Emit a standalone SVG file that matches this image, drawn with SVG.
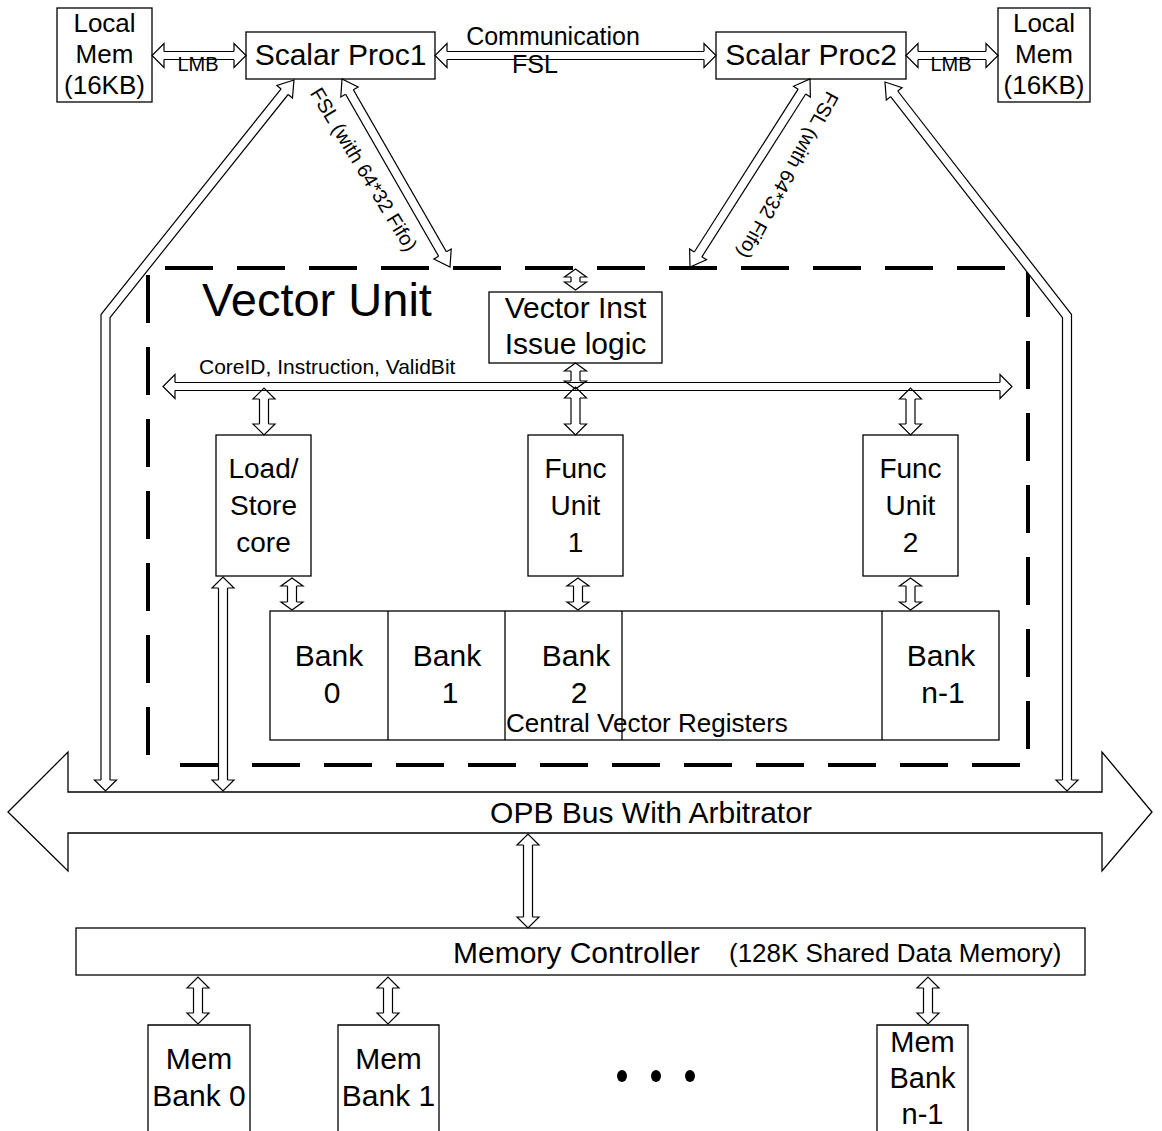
<svg xmlns="http://www.w3.org/2000/svg" xmlns:xlink="http://www.w3.org/1999/xlink" width="1162" height="1131" viewBox="0 0 1162 1131">
<style>
  .box { fill:#fff; stroke:#000; stroke-width:1.3; }
  .t { font-family:"Liberation Sans", Arial, sans-serif; fill:#000; }
  .c { text-anchor:middle; }
  .so { fill:none; stroke:#000; stroke-width:10.2; stroke-linejoin:miter; }
  .si { fill:none; stroke:#fff; stroke-width:7.8; stroke-linejoin:miter; }
  .so4 { fill:none; stroke:#000; stroke-width:9.2; }
  .si4 { fill:none; stroke:#fff; stroke-width:6.8; }
  .hd { fill:none; stroke:#000; stroke-width:1.2; stroke-linejoin:miter; }
  .dash { fill:none; stroke:#000; stroke-width:4; stroke-dasharray:48 24; }
</style>
<defs>
  <polyline id="hS" class="hd" points="-11,-4.5 -11,-11 0,0 -11,11 -11,4.5"/>
  <polyline id="hT" class="hd" points="-8,-4.5 -8,-11 0,0 -8,11 -8,4.5"/>
  <polyline id="hM" class="hd" points="-15,-4.5 -15,-10 0,0 -15,10 -15,4.5"/>
  <polyline id="hL" class="hd" points="-12,-4 -12,-12 0,0 -12,12 -12,4"/>
</defs>
<rect width="1162" height="1131" fill="#fff"/>

<g id="vector-unit">
  <path class="dash" d="M148,755 V268 H1028 V765 H160"/>
  <text class="t" x="202" y="316" font-size="47">Vector Unit</text>
</g>

<g id="local-mem-1">
  <rect class="box" x="57" y="8" width="95" height="94"/>
  <text class="t c" font-size="26" x="104.5" y="32">Local</text>
  <text class="t c" font-size="26" x="104.5" y="63">Mem</text>
  <text class="t c" font-size="26" x="104.5" y="94">(16KB)</text>
</g>
<g id="scalar-proc-1">
  <rect class="box" x="246" y="32" width="189" height="47"/>
  <text class="t c" font-size="30" x="340.5" y="65">Scalar Proc1</text>
</g>
<g id="scalar-proc-2">
  <rect class="box" x="716" y="32" width="190" height="47"/>
  <text class="t c" font-size="30" x="811" y="65">Scalar Proc2</text>
</g>
<g id="local-mem-2">
  <rect class="box" x="998" y="8" width="92" height="94"/>
  <text class="t c" font-size="26" x="1044" y="32">Local</text>
  <text class="t c" font-size="26" x="1044" y="63">Mem</text>
  <text class="t c" font-size="26" x="1044" y="94">(16KB)</text>
</g>

<g id="vector-inst">
  <rect class="box" x="489" y="292" width="173" height="71"/>
  <text class="t c" font-size="30" x="575.5" y="318">Vector Inst</text>
  <text class="t c" font-size="30" x="575.5" y="354">Issue logic</text>
</g>

<g id="load-store">
  <rect class="box" x="216" y="435" width="95" height="141"/>
  <text class="t c" font-size="28" x="263.5" y="478">Load/</text>
  <text class="t c" font-size="28" x="263.5" y="515">Store</text>
  <text class="t c" font-size="28" x="263.5" y="552">core</text>
</g>
<g id="func-unit-1">
  <rect class="box" x="528" y="435" width="95" height="141"/>
  <text class="t c" font-size="28" x="575.5" y="478">Func</text>
  <text class="t c" font-size="28" x="575.5" y="515">Unit</text>
  <text class="t c" font-size="28" x="575.5" y="552">1</text>
</g>
<g id="func-unit-2">
  <rect class="box" x="863" y="435" width="95" height="141"/>
  <text class="t c" font-size="28" x="910.5" y="478">Func</text>
  <text class="t c" font-size="28" x="910.5" y="515">Unit</text>
  <text class="t c" font-size="28" x="910.5" y="552">2</text>
</g>

<g id="central-vector-registers">
  <rect class="box" x="270" y="611" width="729" height="129"/>
  <line x1="388" y1="611" x2="388" y2="740" stroke="#000" stroke-width="1.3"/>
  <line x1="505" y1="611" x2="505" y2="740" stroke="#000" stroke-width="1.3"/>
  <line x1="622" y1="611" x2="622" y2="740" stroke="#000" stroke-width="1.3"/>
  <line x1="882" y1="611" x2="882" y2="740" stroke="#000" stroke-width="1.3"/>
  <text class="t c" font-size="30" x="329" y="666">Bank</text>
  <text class="t c" font-size="30" x="332" y="703">0</text>
  <text class="t c" font-size="30" x="447" y="666">Bank</text>
  <text class="t c" font-size="30" x="450" y="703">1</text>
  <text class="t c" font-size="30" x="576" y="666">Bank</text>
  <text class="t c" font-size="30" x="579" y="703">2</text>
  <text class="t c" font-size="30" x="941" y="666">Bank</text>
  <text class="t c" font-size="30" x="943" y="703">n-1</text>
  <text class="t" font-size="26" x="506" y="732">Central Vector Registers</text>
</g>

<g id="opb-bus">
  <polygon class="box" points="8,812 68,752 68,792 1102,792 1102,752 1152,812 1102,871 1102,833 68,833 68,871"/>
  <text class="t c" font-size="30" x="651" y="823">OPB Bus With Arbitrator</text>
</g>

<g id="memory-controller">
  <rect class="box" x="76" y="928" width="1009" height="47"/>
  <text class="t" font-size="30" x="453" y="963">Memory Controller</text>
  <text class="t" font-size="26" x="729" y="962">(128K Shared Data Memory)</text>
</g>

<g id="mem-bank-0">
  <path class="box" d="M148,1135 V1025 H250 V1135"/>
  <text class="t c" font-size="30" x="199" y="1069">Mem</text>
  <text class="t c" font-size="30" x="199" y="1106">Bank 0</text>
</g>
<g id="mem-bank-1">
  <path class="box" d="M338,1135 V1025 H439 V1135"/>
  <text class="t c" font-size="30" x="388.5" y="1069">Mem</text>
  <text class="t c" font-size="30" x="388.5" y="1106">Bank 1</text>
</g>
<g id="mem-bank-n1">
  <path class="box" d="M877,1135 V1025 H968 V1135"/>
  <text class="t c" font-size="29" x="922.5" y="1052">Mem</text>
  <text class="t c" font-size="29" x="922.5" y="1088">Bank</text>
  <text class="t c" font-size="29" x="922.5" y="1124">n-1</text>
</g>
<g id="ellipsis">
  <ellipse cx="622" cy="1076" rx="5" ry="6"/>
  <ellipse cx="656" cy="1076" rx="5" ry="6"/>
  <ellipse cx="690" cy="1076" rx="5" ry="6"/>
</g>

<g id="connectors">
  <!-- LMB left -->
  <path class="so4" d="M164,55.5 H234"/><path class="si4" d="M163,55.5 H235"/>
  <use xlink:href="#hL" transform="translate(152,55.5) rotate(180)"/>
  <use xlink:href="#hL" transform="translate(246,55.5)"/>
  <!-- Communication FSL -->
  <path class="so4" d="M447,55.5 H704"/><path class="si4" d="M446,55.5 H705"/>
  <use xlink:href="#hL" transform="translate(435,55.5) rotate(180)"/>
  <use xlink:href="#hL" transform="translate(716,55.5)"/>
  <!-- LMB right -->
  <path class="so4" d="M918,55.5 H986"/><path class="si4" d="M917,55.5 H987"/>
  <use xlink:href="#hL" transform="translate(906,55.5) rotate(180)"/>
  <use xlink:href="#hL" transform="translate(998,55.5)"/>

  <!-- Proc1 to OPB -->
  <path class="so" d="M105.5,780 V316 L284.6,91.7"/><path class="si" d="M105.5,781 V316 L285.2,90.9"/>
  <use xlink:href="#hS" transform="translate(105.5,791) rotate(90)"/>
  <use xlink:href="#hM" transform="translate(294,80) rotate(-51.4)"/>
  <!-- Proc2 to OPB -->
  <path class="so" d="M1067,780 V316 L894.2,93.8"/><path class="si" d="M1067,781 V316 L893.6,93"/>
  <use xlink:href="#hS" transform="translate(1067,791) rotate(90)"/>
  <use xlink:href="#hM" transform="translate(885,82) rotate(-127.9)"/>

  <!-- FSL Proc1 to Vector Unit -->
  <path class="so" d="M349.5,92 L442.5,254"/><path class="si" d="M349,91.1 L443,254.9"/>
  <use xlink:href="#hM" transform="translate(342,79) rotate(-119.9)"/>
  <use xlink:href="#hM" transform="translate(450,267) rotate(60.1)"/>
  <text class="t c" font-size="20" transform="translate(358,173) rotate(58.8)">FSL (with 64*32 Fifo)</text>
  <!-- FSL Proc2 to Vector Unit -->
  <path class="so" d="M801.9,91.6 L698.1,254.4"/><path class="si" d="M802.4,90.8 L697.6,255.2"/>
  <use xlink:href="#hM" transform="translate(810,79) rotate(-57.5)"/>
  <use xlink:href="#hM" transform="translate(690,267) rotate(122.5)"/>
  <text class="t c" font-size="20" transform="translate(782,172) rotate(118.9)">FSL (with 64*32 Fifo)</text>

  <!-- Communication label -->
  <text class="t c" font-size="25" x="553" y="45">Communication</text>
  <text class="t c" font-size="25" x="535" y="73">FSL</text>
  <text class="t c" font-size="20" x="198" y="71">LMB</text>
  <text class="t c" font-size="20" x="951" y="71">LMB</text>

  <!-- Vector unit top to Vector Inst -->
  <path class="so" d="M575.5,277 V282"/><path class="si" d="M575.5,276 V283"/>
  <use xlink:href="#hT" transform="translate(575.5,269) rotate(-90)"/>
  <use xlink:href="#hT" transform="translate(575.5,290) rotate(90)"/>

  <!-- CoreID bus -->
  <path class="so4" d="M175,386.5 H1000"/><path class="si4" d="M174,386.5 H1001"/>
  <use xlink:href="#hL" transform="translate(163,386.5) rotate(180)"/>
  <use xlink:href="#hL" transform="translate(1012,386.5)"/>
  <text class="t" font-size="21" x="199" y="374">CoreID, Instruction, ValidBit</text>

  <!-- Vector Inst to bus -->
  <path class="so" d="M575.5,371 V381"/><path class="si" d="M575.5,370 V382"/>
  <use xlink:href="#hT" transform="translate(575.5,363) rotate(-90)"/>
  <use xlink:href="#hT" transform="translate(575.5,389) rotate(90)"/>

  <!-- bus to units -->
  <path class="so" d="M264,399 V424"/><path class="si" d="M264,398 V425"/>
  <use xlink:href="#hS" transform="translate(264,388) rotate(-90)"/>
  <use xlink:href="#hS" transform="translate(264,435) rotate(90)"/>
  <path class="so" d="M575.5,398 V424"/><path class="si" d="M575.5,397 V425"/>
  <use xlink:href="#hS" transform="translate(575.5,387) rotate(-90)"/>
  <use xlink:href="#hS" transform="translate(575.5,435) rotate(90)"/>
  <path class="so" d="M910.5,399 V424"/><path class="si" d="M910.5,398 V425"/>
  <use xlink:href="#hS" transform="translate(910.5,388) rotate(-90)"/>
  <use xlink:href="#hS" transform="translate(910.5,435) rotate(90)"/>

  <!-- units to registers -->
  <path class="so" d="M292,586 V602"/><path class="si" d="M292,585 V603"/>
  <use xlink:href="#hT" transform="translate(292,578) rotate(-90)"/>
  <use xlink:href="#hT" transform="translate(292,610) rotate(90)"/>
  <path class="so" d="M578,586 V602"/><path class="si" d="M578,585 V603"/>
  <use xlink:href="#hT" transform="translate(578,578) rotate(-90)"/>
  <use xlink:href="#hT" transform="translate(578,610) rotate(90)"/>
  <path class="so" d="M910.5,586 V602"/><path class="si" d="M910.5,585 V603"/>
  <use xlink:href="#hT" transform="translate(910.5,578) rotate(-90)"/>
  <use xlink:href="#hT" transform="translate(910.5,610) rotate(90)"/>

  <!-- Load/Store to OPB -->
  <path class="so" d="M223,588 V780"/><path class="si" d="M223,587 V781"/>
  <use xlink:href="#hS" transform="translate(223,577) rotate(-90)"/>
  <use xlink:href="#hS" transform="translate(223,791) rotate(90)"/>

  <!-- OPB to Memory Controller -->
  <path class="so" d="M528,845 V917"/><path class="si" d="M528,844 V918"/>
  <use xlink:href="#hS" transform="translate(528,834) rotate(-90)"/>
  <use xlink:href="#hS" transform="translate(528,928) rotate(90)"/>

  <!-- Memory Controller to banks -->
  <path class="so" d="M198,988 V1013"/><path class="si" d="M198,987 V1014"/>
  <use xlink:href="#hS" transform="translate(198,977) rotate(-90)"/>
  <use xlink:href="#hS" transform="translate(198,1024) rotate(90)"/>
  <path class="so" d="M388,988 V1013"/><path class="si" d="M388,987 V1014"/>
  <use xlink:href="#hS" transform="translate(388,977) rotate(-90)"/>
  <use xlink:href="#hS" transform="translate(388,1024) rotate(90)"/>
  <path class="so" d="M928,988 V1013"/><path class="si" d="M928,987 V1014"/>
  <use xlink:href="#hS" transform="translate(928,977) rotate(-90)"/>
  <use xlink:href="#hS" transform="translate(928,1024) rotate(90)"/>
</g>
</svg>
